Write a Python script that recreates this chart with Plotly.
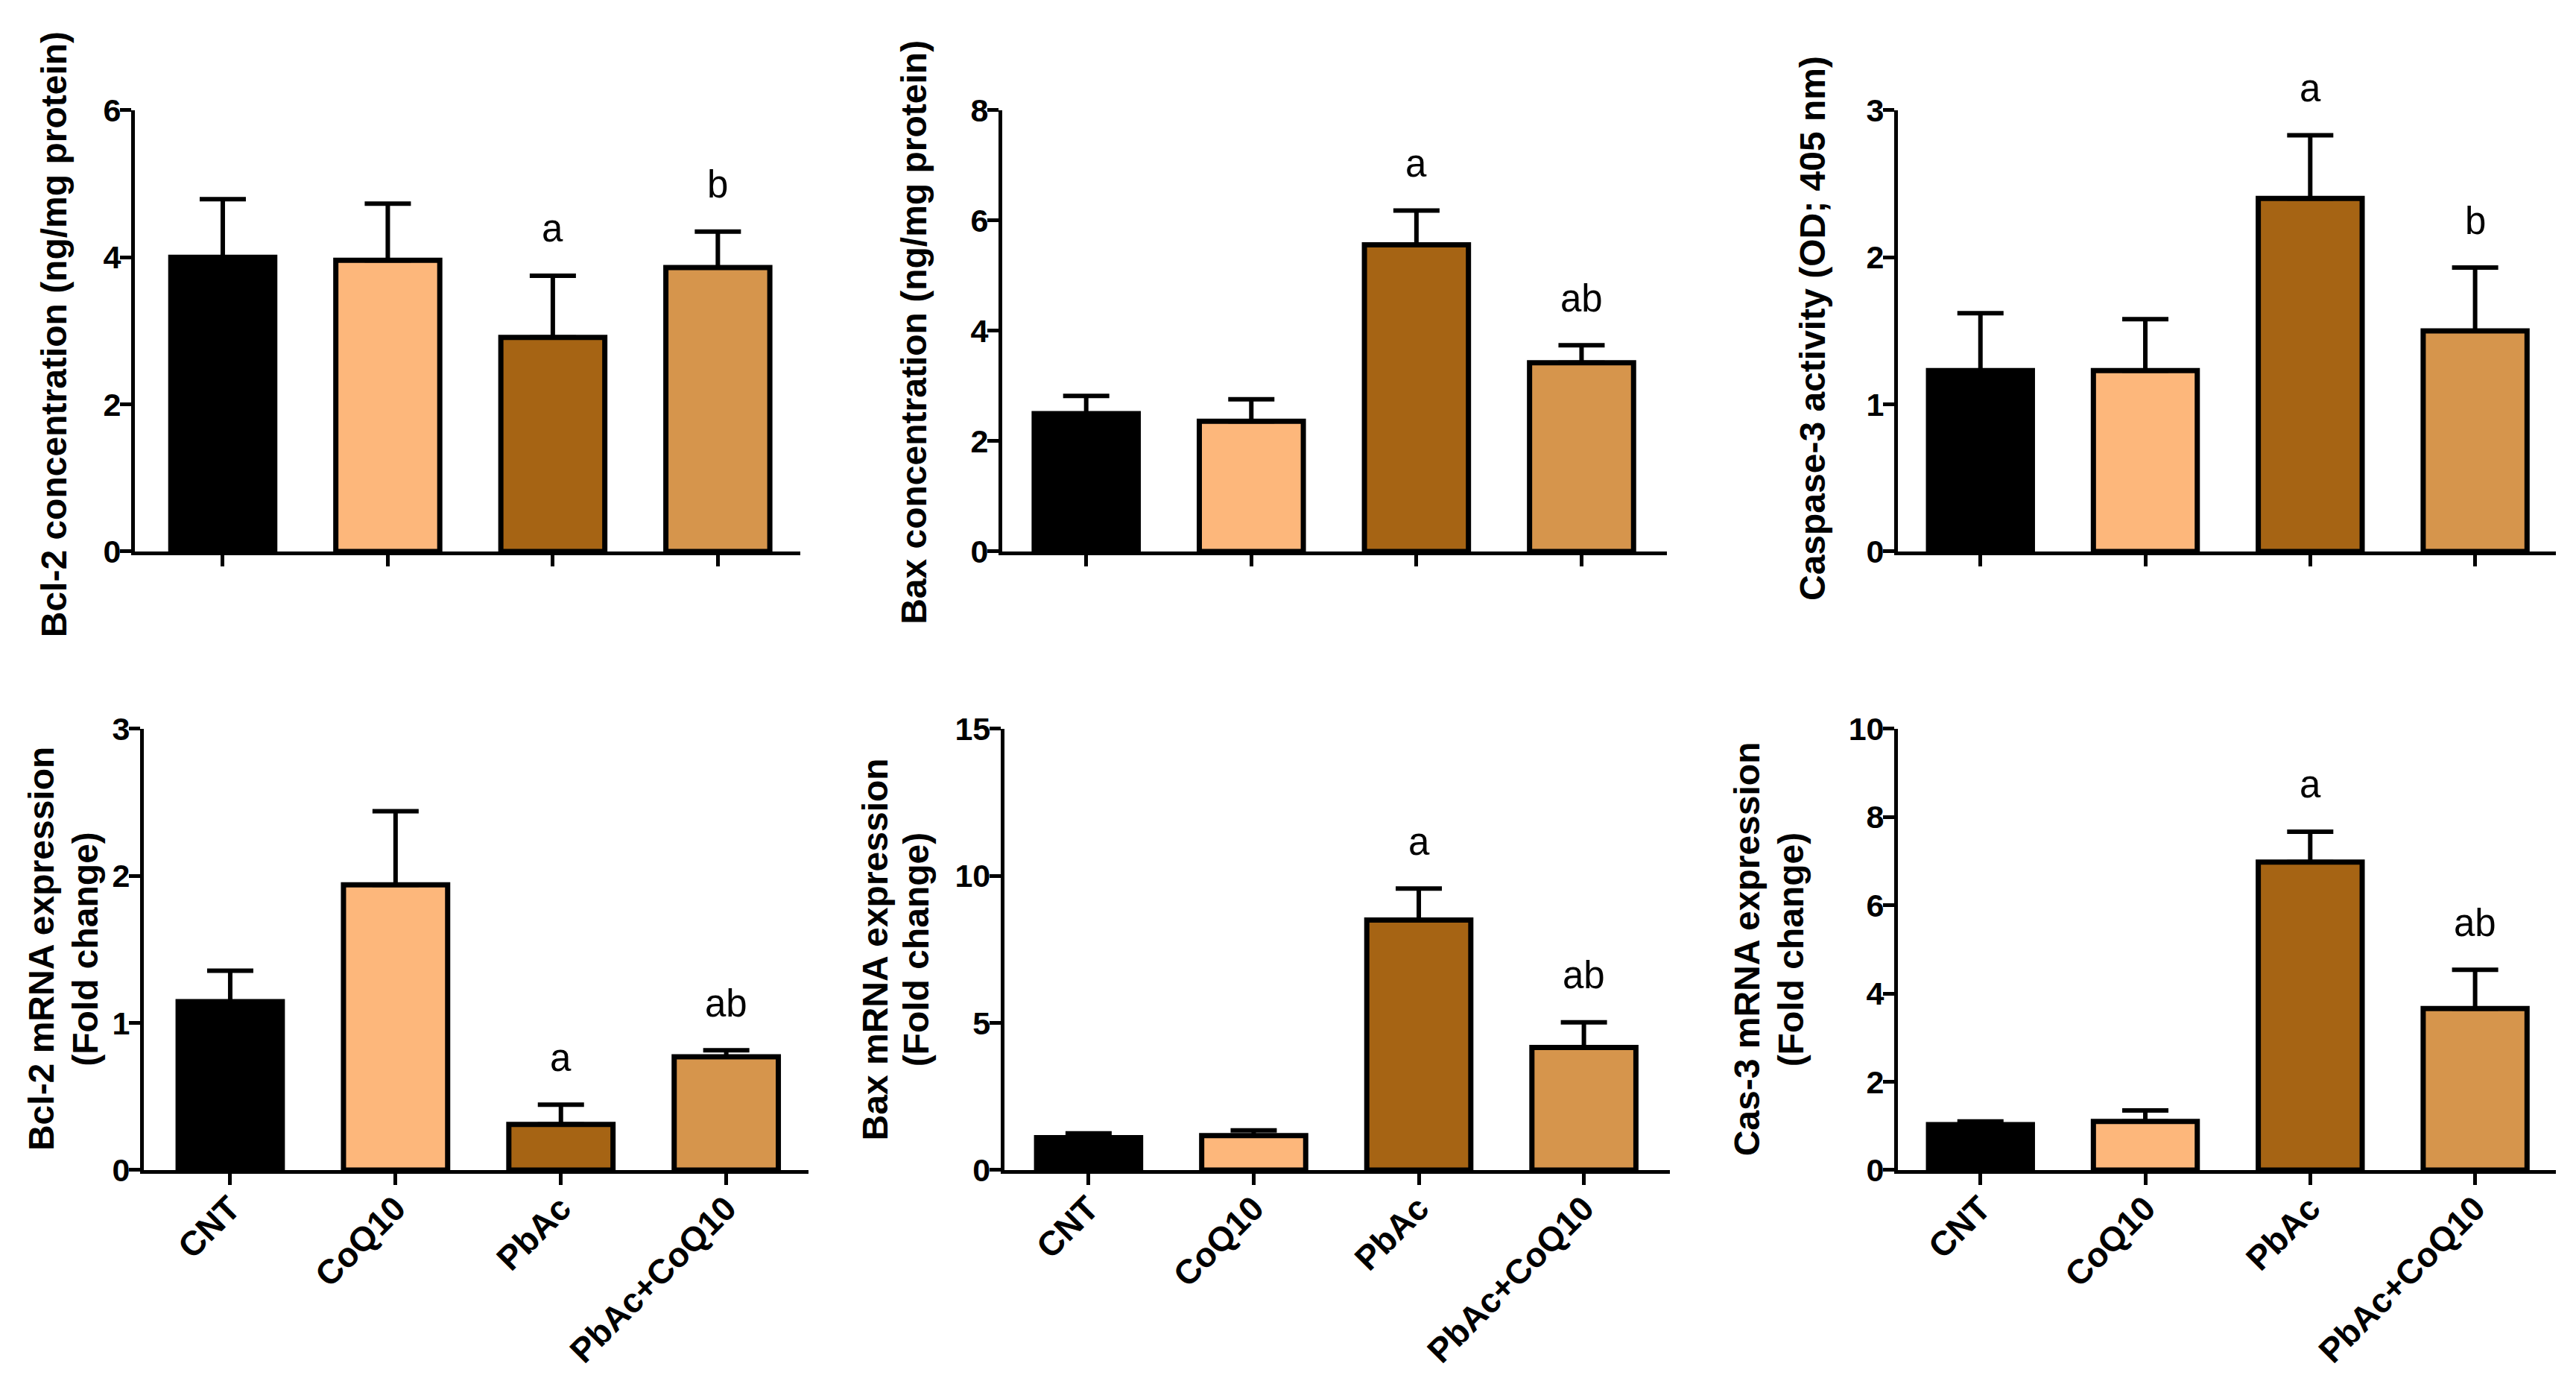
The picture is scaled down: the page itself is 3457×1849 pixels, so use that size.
import plotly.graph_objects as go

# groups on the x axis
groups = ["CNT", "CoQ10", "PbAc", "PbAc+CoQ10"]
bar_colors = ["#000000", "#FDB77B", "#A66414", "#D6954C"]

# top row
bcl2_conc = [4.00, 3.96, 2.91, 3.86]
bcl2_conc_sem = [0.79, 0.77, 0.84, 0.49]
bcl2_conc_sig = ["", "", "a", "b"]

bax_conc = [2.50, 2.36, 5.56, 3.42]
bax_conc_sem = [0.32, 0.40, 0.62, 0.32]
bax_conc_sig = ["", "", "a", "ab"]

casp3_act = [1.23, 1.23, 2.40, 1.50]
casp3_act_sem = [0.39, 0.35, 0.43, 0.43]
casp3_act_sig = ["", "", "a", "b"]

# bottom row
bcl2_mrna = [1.145, 1.94, 0.31, 0.77]
bcl2_mrna_sem = [0.21, 0.50, 0.135, 0.045]
bcl2_mrna_sig = ["", "", "a", "ab"]

bax_mrna = [1.10, 1.17, 8.50, 4.17]
bax_mrna_sem = [0.15, 0.18, 1.07, 0.85]
bax_mrna_sig = ["", "", "a", "ab"]

cas3_mrna = [1.03, 1.10, 6.98, 3.66]
cas3_mrna_sem = [0.07, 0.25, 0.69, 0.88]
cas3_mrna_sig = ["", "", "a", "ab"]

FONT = "Liberation Sans, Arial, sans-serif"

# one tuple per panel:
# values, sem, letters, y max, dtick, y title lines, x domain, y domain, x range, title x per line, title y, labels
panels = [
    (bcl2_conc, bcl2_conc_sem, bcl2_conc_sig, 6, 2, ["Bcl-2 concentration (ng/mg protein)"],
     [0.0524, 0.3107], [0.5998, 0.92], [-0.532, 3.50], [0.0208], 0.7575, False),
    (bax_conc, bax_conc_sem, bax_conc_sig, 8, 2, ["Bax concentration (ng/mg protein)"],
     [0.3891, 0.6471], [0.5998, 0.92], [-0.508, 3.517], [0.3549], 0.7588, False),
    (casp3_act, casp3_act_sem, casp3_act_sig, 3, 1, ["Caspase-3 activity (OD; 405 nm)"],
     [0.7368, 0.9922], [0.5998, 0.92], [-0.50, 3.49], [0.7038], 0.7615, False),
    (bcl2_mrna, bcl2_mrna_sem, bcl2_mrna_sig, 3, 1, ["Bcl-2 mRNA expression", "(Fold change)"],
     [0.0558, 0.3139], [0.1509, 0.4711], [-0.523, 3.498], [0.0161, 0.0331], 0.3113, True),
    (bax_mrna, bax_mrna_sem, bax_mrna_sig, 15, 5, ["Bax mRNA expression", "(Fold change)"],
     [0.3899, 0.6482], [0.1509, 0.4711], [-0.51, 3.52], [0.3396, 0.3555], 0.3113, True),
    (cas3_mrna, cas3_mrna_sem, cas3_mrna_sig, 10, 2, ["Cas-3 mRNA expression", "(Fold change)"],
     [0.7368, 0.9922], [0.1509, 0.4711], [-0.50, 3.49], [0.6783, 0.6951], 0.3113, True),
]

fig = go.Figure()
annotations = []
layout_axes = {}

for i, (vals, sem, sig, ymax, dtick, ytitle, xdom, ydom, xrng, tx, ty, show_lbl) in enumerate(panels):
    n = "" if i == 0 else str(i + 1)
    xa, ya = "x" + n, "y" + n

    fig.add_trace(go.Bar(
        x=groups, y=vals, xaxis=xa, yaxis=ya,
        width=0.63,
        marker=dict(color=bar_colors, line=dict(color="black", width=7)),
        error_y=dict(type="data", symmetric=False, array=sem, arrayminus=[0] * len(sem),
                     color="black", thickness=6, width=31),
        cliponaxis=False,
        showlegend=False,
    ))

    layout_axes["xaxis" + n] = dict(
        domain=xdom, anchor=ya, type="category", range=xrng, automargin=False,
        showline=True, linecolor="black", linewidth=5,
        ticks="outside", ticklen=15, tickwidth=5, tickcolor="black",
        showticklabels=show_lbl, tickangle=-45, ticklabelstandoff=-14,
        tickfont=dict(family=FONT, size=46, color="black", weight="bold"),
        showgrid=False, zeroline=False,
    )
    layout_axes["yaxis" + n] = dict(
        domain=ydom, anchor=xa, range=[0, ymax], dtick=dtick, tick0=0, automargin=False,
        showline=True, linecolor="black", linewidth=5,
        ticks="outside", ticklen=15, tickwidth=5, tickcolor="black",
        ticklabelstandoff=-10,
        tickfont=dict(family=FONT, size=43, color="black", weight="bold"),
        showgrid=False, zeroline=False,
    )

    # y axis title, one annotation per line
    for line, x in zip(ytitle, tx):
        annotations.append(dict(
            xref="paper", yref="paper", x=x, y=ty,
            text=line, textangle=-90, showarrow=False,
            xanchor="center", yanchor="middle",
            font=dict(family=FONT, size=48, color="black", weight="bold"),
        ))

    # significance letters above the error bars
    for g, v, s, letter in zip(groups, vals, sem, sig):
        if letter:
            annotations.append(dict(
                xref=xa, yref=ya, x=g, y=v + s, yshift=63,
                text=letter, showarrow=False,
                xanchor="center", yanchor="middle",
                font=dict(family=FONT, size=51, color="black"),
            ))

fig.update_layout(
    width=3457, height=1849,
    margin=dict(l=0, r=0, t=0, b=0),
    paper_bgcolor="white", plot_bgcolor="white",
    showlegend=False,
    annotations=annotations,
    **layout_axes,
)

fig.write_html("out.html", config={"displayModeBar": False},
               post_script="document.body.style.margin='0';document.body.style.overflow='hidden';")
